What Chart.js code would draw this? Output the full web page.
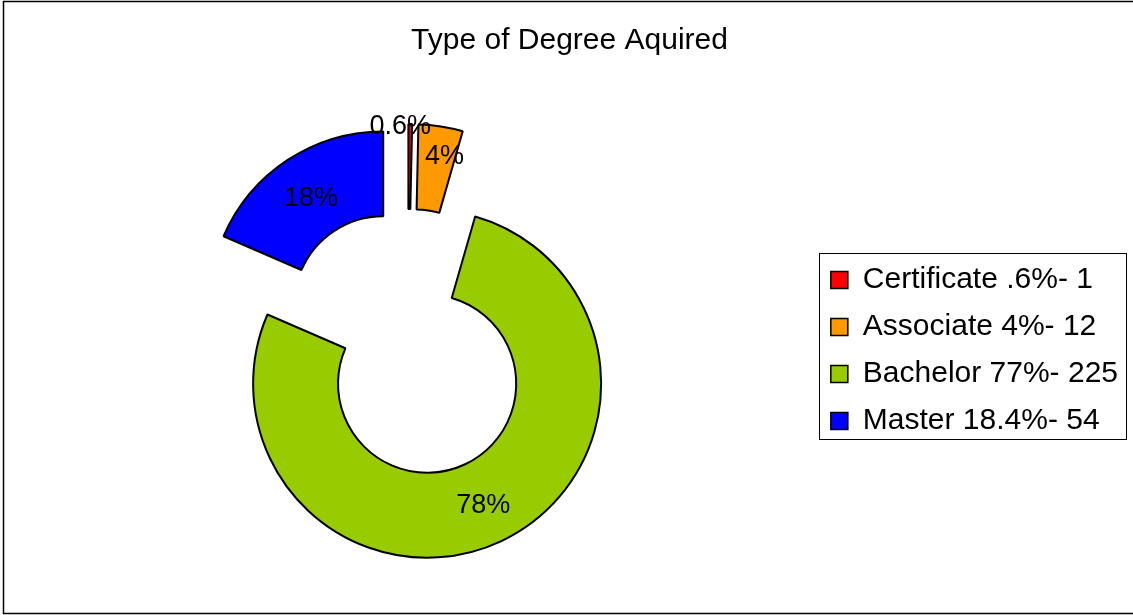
<!DOCTYPE html>
<html>
<head>
<meta charset="utf-8">
<title>Type of Degree Aquired</title>
<script src="https://cdn.jsdelivr.net/npm/chart.js@4.4.0/dist/chart.umd.min.js"></script>
<style>
  html, body { margin: 0; padding: 0; background: #fff; }
  #wrap { width: 1133px; height: 615px; }
  canvas { display: block; }
</style>
</head>
<body>
<div id="wrap"><canvas id="c" width="1133" height="615"></canvas></div>
<script>
// ---- data ----
const titleText = 'Type of Degree Aquired';
const categories = ['Certificate .6%- 1', 'Associate 4%- 12', 'Bachelor 77%- 225', 'Master 18.4%- 54'];
const values = [1, 12, 225, 54];
const sliceLabels = ['0.6%', '4%', '78%', '18%'];
const colors = ['#FF0000', '#FF9900', '#99CC00', '#0000FF'];

const FONT = "'Liberation Sans', Arial, Helvetica, sans-serif";
const EXPLODE = 45;

Chart.defaults.font.family = FONT;
Chart.defaults.color = '#000';

const backgroundPlugin = {
  id: 'frame',
  beforeDraw(chart) {
    const ctx = chart.ctx;
    ctx.save();
    ctx.fillStyle = '#fff';
    ctx.fillRect(0, 0, chart.width, chart.height);
    ctx.strokeStyle = '#000';
    ctx.lineWidth = 1.5;
    ctx.strokeRect(3.5, 1.5, chart.width + 10, chart.height - 3);
    ctx.restore();
  },
  afterDraw(chart) {
    const hb = chart.legend && chart.legend.legendHitBoxes;
    if (!hb || !hb.length) return;
    const left = Math.min(...hb.map(h => h.left)) - 12;
    const right = Math.max(...hb.map(h => h.left + h.width)) + 8;
    const top = hb[0].top - 12;
    const last = hb[hb.length - 1];
    const bottom = last.top + last.height + 3;
    const ctx = chart.ctx;
    ctx.save();
    ctx.strokeStyle = '#000';
    ctx.lineWidth = 1;
    ctx.strokeRect(Math.round(left) + 0.5, Math.round(top) + 0.5, Math.round(right - left), Math.round(bottom - top));
    ctx.restore();
  }
};

const layoutTweak = {
  id: 'layoutTweak',
  afterLayout(chart) {
    if (chart.legend) chart.legend.top += 86;
    if (chart.titleBlock) chart.titleBlock.left += 9;
  }
};

const explodePlugin = {
  id: 'explode',
  afterDatasetUpdate(chart, args) {
    const meta = chart.getDatasetMeta(args.index);
    meta.data.forEach(arc => {
      const mid = (arc.startAngle + arc.endAngle) / 2;
      arc.x += Math.cos(mid) * EXPLODE;
      arc.y += Math.sin(mid) * EXPLODE;
    });
  }
};

const labelPlugin = {
  id: 'sliceLabels',
  afterDatasetsDraw(chart) {
    const meta = chart.getDatasetMeta(0);
    const ctx = chart.ctx;
    const total = values.reduce((a, b) => a + b, 0);
    ctx.save();
    ctx.font = '27px ' + FONT;
    ctx.fillStyle = '#000';
    ctx.textAlign = 'center';
    ctx.textBaseline = 'middle';
    meta.data.forEach((arc, i) => {
      const p = arc.getProps(['x', 'y', 'startAngle', 'endAngle', 'innerRadius', 'outerRadius'], true);
      const frac = values[i] / total;
      let ang = (p.startAngle + p.endAngle) / 2;
      let r = (p.innerRadius + p.outerRadius) / 2;
      let dx = 0;
      if (frac < 0.02) {
        r = p.outerRadius;
        dx = -10;
      } else if (frac < 0.06) {
        ang = p.startAngle + 0.7 * (p.endAngle - p.startAngle);
        r = p.outerRadius - 26;
      }
      ctx.fillText(sliceLabels[i], p.x + Math.cos(ang) * r + dx, p.y + Math.sin(ang) * r + 3);
    });
    ctx.restore();
  }
};

new Chart(document.getElementById('c'), {
  type: 'doughnut',
  data: {
    labels: categories,
    datasets: [{
      data: values,
      backgroundColor: colors,
      borderColor: '#000',
      borderWidth: 2
    }]
  },
  options: {
    responsive: false,
    animation: false,
    events: [],
    radius: 174,
    cutout: '51.2%',
    layout: { padding: { left: 2, right: 5, top: 0, bottom: 0 } },
    plugins: {
      title: {
        display: true,
        text: titleText,
        color: '#000',
        font: { size: 30, weight: 'normal', family: FONT },
        padding: { top: 23, bottom: 12 }
      },
      legend: {
        display: true,
        position: 'right',
        align: 'center',
        labels: {
          boxWidth: 17,
          boxHeight: 17,
          padding: 17,
          color: '#000',
          font: { size: 30, family: FONT },
          generateLabels(chart) {
            const items = Chart.overrides.doughnut.plugins.legend.labels.generateLabels(chart);
            items.forEach(it => { it.lineWidth = 1.5; it.strokeStyle = '#000'; });
            return items;
          }
        }
      },
      tooltip: { enabled: false }
    }
  },
  plugins: [backgroundPlugin, layoutTweak, explodePlugin, labelPlugin]
});
</script>
</body>
</html>
